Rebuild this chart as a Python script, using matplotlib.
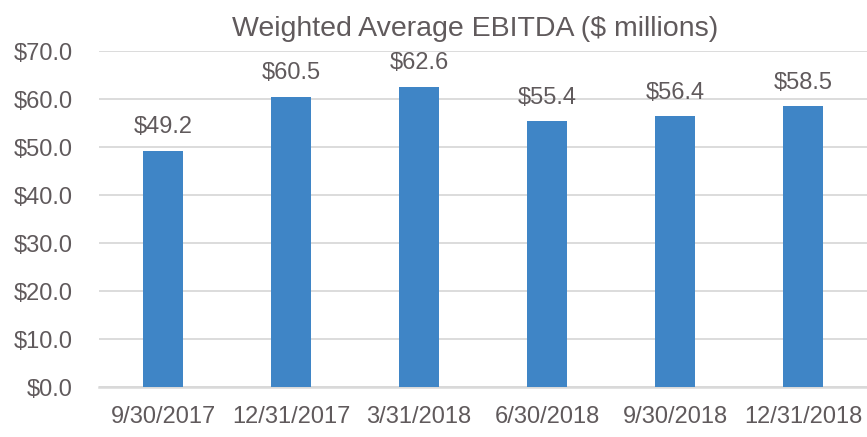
import matplotlib.pyplot as plt
from matplotlib import font_manager

# Datos
fechas = ['9/30/2017', '12/31/2017', '3/31/2018', '6/30/2018', '9/30/2018', '12/31/2018']
ebitda = [49.2, 60.5, 62.6, 55.4, 56.4, 58.5]

nombres = {f.name for f in font_manager.fontManager.ttflist}
fuente = 'Liberation Sans Narrow' if 'Liberation Sans Narrow' in nombres else 'Liberation Sans'
plt.rcParams['font.family'] = [fuente, 'DejaVu Sans']

gris_texto = '#605a5c'
azul = '#3f85c6'

fig = plt.figure(figsize=(8.67, 4.37), dpi=100)
ax = fig.add_axes([99/867, 1 - 387/437, 768/867, 336/437])

x = range(len(fechas))
barras = ax.bar(x, ebitda, width=0.31, color=azul, zorder=3)

for b, v in zip(barras, ebitda):
    ax.annotate(f'${v:.1f}', (b.get_x() + b.get_width()/2, v), xytext=(0, 9),
                textcoords='offset points', ha='center', va='bottom',
                fontsize=17, color=gris_texto)

ax.set_xlim(-0.5, len(fechas) - 0.5)
ax.set_ylim(0, 70)
ax.set_yticks(range(0, 71, 10))
ax.set_yticklabels([f'${t:.1f}' for t in range(0, 71, 10)])
ax.set_xticks(list(x))
ax.set_xticklabels(fechas)
ax.tick_params(axis='both', length=0, labelsize=17, colors=gris_texto)
ax.tick_params(axis='y', pad=19)
ax.tick_params(axis='x', pad=14)

ax.grid(axis='y', color='#d9d9d9', linewidth=1.3, zorder=0)
for s in ['top', 'right', 'left']:
    ax.spines[s].set_visible(False)
ax.spines['bottom'].set_color('#d9d9d9')
ax.spines['bottom'].set_linewidth(1.8)

fig.text(475/867, 1 - 29/437, 'Weighted Average EBITDA ($ millions)', ha='center', va='center',
         fontsize=20.5, color=gris_texto)

fig.savefig('out.png', dpi=100)
